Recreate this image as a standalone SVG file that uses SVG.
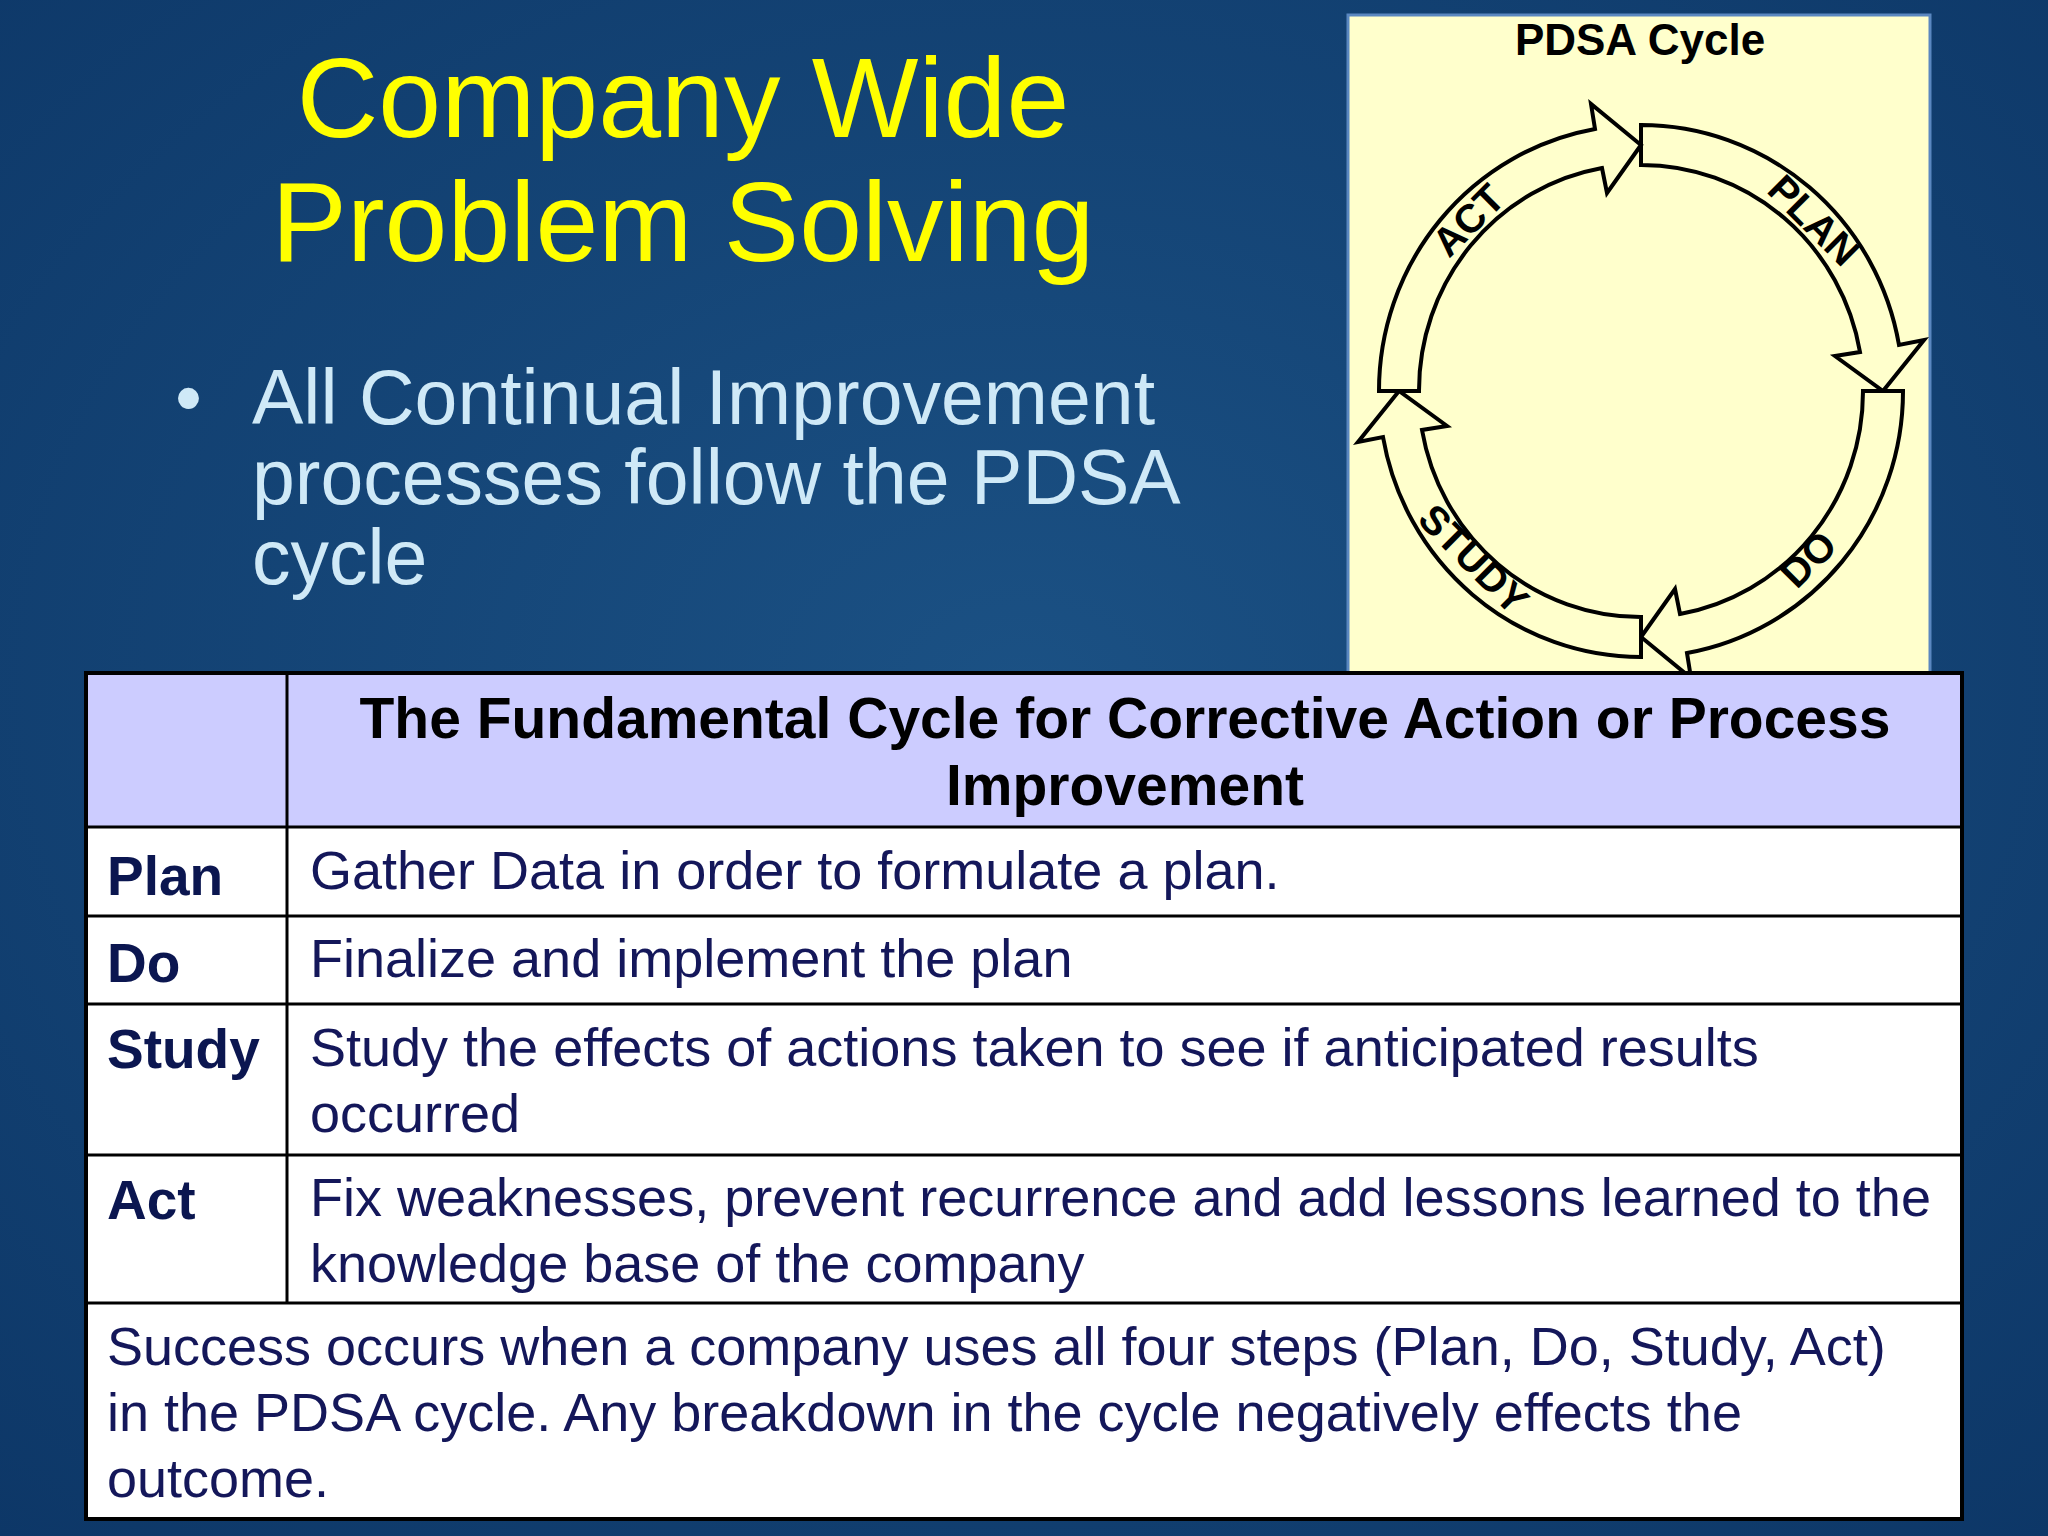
<svg xmlns="http://www.w3.org/2000/svg" width="2048" height="1536" viewBox="0 0 2048 1536">
<defs>
<radialGradient id="bg" cx="0.5" cy="0.45" r="0.8">
<stop offset="0" stop-color="#1b5184"/><stop offset="1" stop-color="#0c3565"/>
</radialGradient>
<style>
.t{font-family:"Liberation Sans",Arial,sans-serif}
.seg{fill:#ffffcc;stroke:#000;stroke-width:4;stroke-linejoin:miter}
.lab{font-family:"Liberation Sans",Arial,sans-serif;font-weight:bold;font-size:40px;fill:#000}
.rl{font-family:"Liberation Sans",Arial,sans-serif;font-weight:bold;font-size:55px;fill:#0b1650}
.rt{font-family:"Liberation Sans",Arial,sans-serif;font-size:54px;fill:#14175a}
.ln{stroke:#000;stroke-width:3}
</style>
</defs>
<rect width="2048" height="1536" fill="url(#bg)"/>
<g id="title" class="t" fill="#ffff00" font-size="113" text-anchor="middle">
<text x="683" y="137">Company Wide</text>
<text x="683" y="261">Problem Solving</text>
</g>
<g id="bullet" class="t" fill="#cfe9f7" font-size="77">
<text x="175" y="424">•</text>
<text x="252" y="424">All Continual Improvement</text>
<text x="252" y="504">processes follow the PDSA</text>
<text x="252" y="584">cycle</text>
</g>
<g id="pdsa">
<rect x="1348" y="15" width="582" height="670" fill="#ffffcc" stroke="#5a87c0" stroke-width="3"/>
<text x="1640" y="55" text-anchor="middle" class="t" font-weight="bold" font-size="44" fill="#000">PDSA Cycle</text>
<path id="plan" class="seg" d="M1641,125 A262,266 0 0 1 1899,345 L1924,340 L1883,391 L1835,356 L1860,352 A222,226 0 0 0 1641,165 Z"/>
<path id="do" class="seg" d="M1903,391 A262,266 0 0 1 1687,653 L1691,678 L1641,637 L1675,589 L1680,614 A222,226 0 0 0 1863,391 Z"/>
<path id="study" class="seg" d="M1641,657 A262,266 0 0 1 1383,437 L1358,442 L1399,391 L1447,426 L1422,430 A222,226 0 0 0 1641,617 Z"/>
<path id="act" class="seg" d="M1379,391 A262,266 0 0 1 1595,129 L1591,104 L1641,145 L1607,193 L1602,168 A222,226 0 0 0 1419,391 Z"/>
<text class="lab" transform="translate(1804,230) rotate(45)" text-anchor="middle">PLAN</text>
<text class="lab" transform="translate(1478,230) rotate(-45)" text-anchor="middle">ACT</text>
<text class="lab" transform="translate(1818,569) rotate(-45)" text-anchor="middle">DO</text>
<text class="lab" transform="translate(1464,569) rotate(45)" text-anchor="middle">STUDY</text>
</g>
<g id="table">
<rect x="86" y="673" width="1876" height="846" fill="#ffffff"/>
<rect x="86" y="673" width="1876" height="154" fill="#ccccff"/>
<g class="ln">
<line x1="287" y1="673" x2="287" y2="1303"/>
<line x1="86" y1="827" x2="1962" y2="827"/>
<line x1="86" y1="916" x2="1962" y2="916"/>
<line x1="86" y1="1004" x2="1962" y2="1004"/>
<line x1="86" y1="1155" x2="1962" y2="1155"/>
<line x1="86" y1="1303" x2="1962" y2="1303"/>
</g>
<rect x="86" y="673" width="1876" height="846" fill="none" stroke="#000" stroke-width="4"/>
<text class="t" font-weight="bold" font-size="57" fill="#000" text-anchor="middle" x="1125" y="738">The Fundamental Cycle for Corrective Action or Process</text>
<text class="t" font-weight="bold" font-size="57" fill="#000" text-anchor="middle" x="1125" y="805">Improvement</text>
<text class="rl" x="107" y="895">Plan</text>
<text class="rl" x="107" y="982">Do</text>
<text class="rl" x="107" y="1068">Study</text>
<text class="rl" x="107" y="1219">Act</text>
<text class="rt" x="310" y="889">Gather Data in order to formulate a plan.</text>
<text class="rt" x="310" y="977">Finalize and implement the plan</text>
<text class="rt" x="310" y="1066">Study the effects of actions taken to see if anticipated results</text>
<text class="rt" x="310" y="1132">occurred</text>
<text class="rt" x="310" y="1216">Fix weaknesses, prevent recurrence and add lessons learned to the</text>
<text class="rt" x="310" y="1282">knowledge base of the company</text>
<text class="rt" x="107" y="1365">Success occurs when a company uses all four steps (Plan, Do, Study, Act)</text>
<text class="rt" x="107" y="1431">in the PDSA cycle. Any breakdown in the cycle negatively effects the</text>
<text class="rt" x="107" y="1497">outcome.</text>
</g>
</svg>
